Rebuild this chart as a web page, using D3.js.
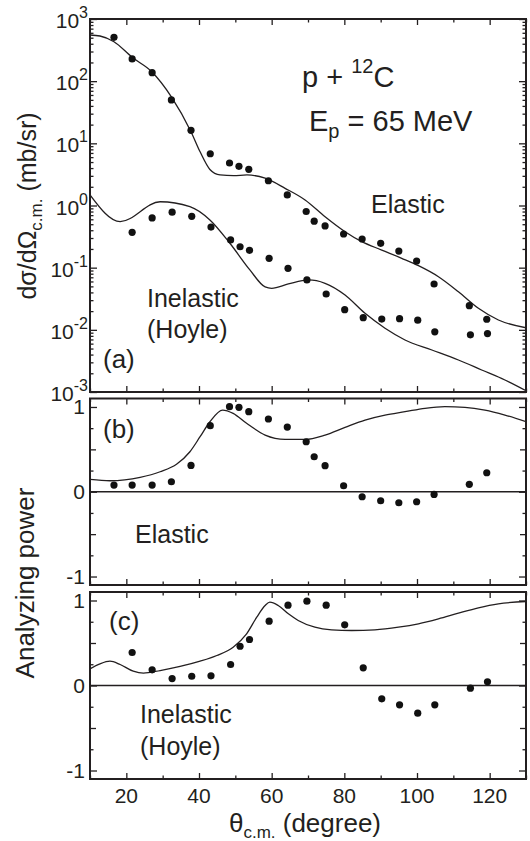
<!DOCTYPE html>
<html>
<head>
<meta charset="utf-8">
<script src="https://cdn.jsdelivr.net/npm/d3@7"></script>
<style>
  body { margin: 0; background: #fff; }
  svg { display: block; font-family: "Liberation Sans", Arial, sans-serif; }
  .axis path, .axis line { stroke: #231f20; }
  .axis text { fill: #231f20; }
</style>
</head>
<body>
<svg id="chart" width="530" height="841"></svg>
<script>
// ---- data ----

// angles of the measured points (degree)
const thetaElastic = [16.6, 21.6, 27.1, 32.4, 37.8, 43.1, 48.4, 51.0, 53.7, 59.1, 64.3,
    69.5, 71.7, 74.7, 79.8, 84.9, 90.0, 95.0, 99.9, 104.7, 114.4, 119.2];
const thetaInelastic = [21.6, 27.1, 32.6, 38.0, 43.3, 48.7, 51.3, 53.9, 59.3, 64.5,
    69.7, 75.0, 80.1, 85.2, 90.3, 95.2, 100.2, 104.9, 114.7, 119.4];

// cross sections (mb/sr)
const xsElastic = [508, 228, 137, 50, 16.2, 6.8, 4.83, 4.26, 3.82, 2.5, 1.48,
    0.80, 0.56, 0.47, 0.348, 0.289, 0.246, 0.185, 0.128, 0.0546, 0.0245, 0.0148];
const xsInelastic = [0.37, 0.63, 0.78, 0.67, 0.45, 0.279, 0.217, 0.19, 0.1415, 0.0977,
    0.0634, 0.0377, 0.0211, 0.0157, 0.0149, 0.0151, 0.0143, 0.0093, 0.0083, 0.0087];

// analyzing powers
const ayElastic = [0.079, 0.079, 0.079, 0.118, 0.311, 0.779, 1.003, 0.996, 0.944, 0.858, 0.763,
    0.59, 0.413, 0.307, 0.071, -0.059, -0.106, -0.13, -0.118, -0.031, 0.087, 0.224];
const ayInelastic = [0.388, 0.184, 0.082, 0.109, 0.114, 0.247, 0.462, 0.541, 0.757, 0.945,
    0.992, 0.945, 0.714, 0.208, -0.157, -0.227, -0.325, -0.227, -0.031, 0.043];

// calculations (solid lines)
const calcXsElTheta = [10, 12.75, 16.6, 21.6, 27.0, 32.4, 37.8, 40.3, 43.0, 45.8, 49.5, 53.2,
    58.2, 63.7, 69.2, 74.7, 80.2, 84.8, 90.3, 95.8, 100.4, 105.9, 111.4, 116.9, 122.4, 130];
const calcXsEl = [553, 533, 431, 242, 142, 56, 15.4, 7.3, 3.8, 3.1, 3.02, 3.1,
    2.75, 1.89, 1.23, 0.66, 0.379, 0.262, 0.192, 0.1415, 0.1077, 0.0716, 0.041, 0.0222, 0.0144, 0.0108];

const calcXsInTheta = [10, 18.3, 29.3, 37.5, 43.0, 48.5, 54.0, 58.2, 60, 64.6, 70.1, 74.7,
    80.2, 85.7, 91.2, 96.7, 104.1, 111.4, 117.8, 124.2, 130];
const calcXsIn = [1.48, 0.55, 1.15, 0.957, 0.585, 0.247, 0.092, 0.049, 0.0466, 0.0547, 0.0634, 0.056,
    0.0363, 0.0184, 0.0106, 0.00687, 0.00474, 0.00327, 0.00226, 0.00156, 0.00105];

const calcAyElTheta = [10, 15.5, 23.8, 29.3, 33.9, 37.5, 40.3, 43.0, 46.5, 49.4, 53.1, 58.2, 63.7,
    69.2, 74.7, 80.2, 85.7, 91.2, 96.7, 102.2, 107.7, 113.2, 118.7, 124.2, 130];
const calcAyEl = [0.146, 0.13, 0.17, 0.236, 0.327, 0.472, 0.649, 0.826, 0.964, 0.925, 0.807, 0.669, 0.618,
    0.618, 0.669, 0.76, 0.846, 0.905, 0.944, 0.984, 1.003, 0.996, 0.964, 0.905, 0.826];

const calcAyInTheta = [10, 12.75, 15.5, 18.3, 21.9, 24.7, 29.3, 34.8, 40.3, 44.9, 49.4, 53.1, 55.9,
    58.2, 59.5, 61.8, 64.6, 67.3, 71.9, 76.5, 82.0, 88.4, 94.9, 100.4, 105.9, 111.4, 116.9, 122.4, 130];
const calcAyIn = [0.196, 0.255, 0.286, 0.247, 0.168, 0.145, 0.176, 0.224, 0.286, 0.353, 0.451, 0.608, 0.804,
    0.941, 0.98, 0.941, 0.843, 0.765, 0.686, 0.655, 0.647, 0.655, 0.686, 0.726, 0.784, 0.851, 0.914, 0.961, 0.988];

// tick values
const xMajorTicks = [20, 40, 60, 80, 100, 120];
const xMinorTicks = [10, 30, 50, 70, 90, 110, 130];
const logMajorTicks = [1e-3, 1e-2, 1e-1, 1e0, 1e1, 1e2, 1e3];
const logExponents = ["-3", "-2", "-1", "0", "1", "2", "3"];
const ayMajorTicks = [-1, 0, 1];
const ayMidTicks = [-0.5, 0.5];
const ayMinorTicks = [-0.75, -0.25, 0.25, 0.75];

// ---- layout ----
const svg = d3.select('#chart');
const left = 90, right = 526;
const ink = '#231f20';
const font = 21;

const x = d3.scaleLinear().domain([10, 130]).range([left, right]);

const panels = [
    { id: 'a', top: 19, bottom: 392, y: d3.scaleLog().domain([1e-3, 1e3]).range([392, 19]) },
    { id: 'b', top: 398.5, bottom: 585, y: d3.scaleLinear().domain([-1.1, 1.1]).range([585, 398.5]) },
    { id: 'c', top: 592, bottom: 779, y: d3.scaleLinear().domain([-1.1, 1.1]).range([779, 592]) }
];

// log minor ticks 2..9 for each decade
const logMinorTicks = [];
for (let e = -3; e < 3; e++) {
    for (let m = 2; m <= 9; m++) logMinorTicks.push(m * Math.pow(10, e));
}

function styleAxis(g) {
    g.select('.domain').remove();
    g.selectAll('line').attr('stroke', ink).attr('stroke-width', 1.3);
}

panels.forEach(p => {
    const g = svg.append('g').attr('class', 'panel-' + p.id);

    // clip for the curves
    svg.append('clipPath').attr('id', 'clip-' + p.id)
        .append('rect')
        .attr('x', left).attr('y', p.top)
        .attr('width', right - left).attr('height', p.bottom - p.top);

    // x ticks, top and bottom, pointing inward
    g.append('g').attr('class', 'axis')
        .attr('transform', `translate(0,${p.bottom})`)
        .call(d3.axisBottom(x).tickValues(xMajorTicks).tickSize(-6).tickFormat(''))
        .call(styleAxis);
    g.append('g').attr('class', 'axis')
        .attr('transform', `translate(0,${p.bottom})`)
        .call(d3.axisBottom(x).tickValues(xMinorTicks).tickSize(-3.5).tickFormat(''))
        .call(styleAxis);
    g.append('g').attr('class', 'axis')
        .attr('transform', `translate(0,${p.top})`)
        .call(d3.axisTop(x).tickValues(xMajorTicks).tickSize(-6).tickFormat(''))
        .call(styleAxis);
    g.append('g').attr('class', 'axis')
        .attr('transform', `translate(0,${p.top})`)
        .call(d3.axisTop(x).tickValues(xMinorTicks).tickSize(-3.5).tickFormat(''))
        .call(styleAxis);

    // y ticks, left and right, pointing inward
    let major, minor, mid = [];
    if (p.id === 'a') { major = logMajorTicks; minor = logMinorTicks; }
    else { major = ayMajorTicks; mid = ayMidTicks; minor = ayMinorTicks; }

    [[d3.axisLeft, left], [d3.axisRight, right]].forEach(([ax, pos]) => {
        g.append('g').attr('class', 'axis')
            .attr('transform', `translate(${pos},0)`)
            .call(ax(p.y).tickValues(major).tickSize(-7).tickFormat(''))
            .call(styleAxis);
        g.append('g').attr('class', 'axis')
            .attr('transform', `translate(${pos},0)`)
            .call(ax(p.y).tickValues(mid).tickSize(-6).tickFormat(''))
            .call(styleAxis);
        g.append('g').attr('class', 'axis')
            .attr('transform', `translate(${pos},0)`)
            .call(ax(p.y).tickValues(minor).tickSize(-3.5).tickFormat(''))
            .call(styleAxis);
    });

    // zero line for analyzing power panels
    if (p.id !== 'a') {
        g.append('line')
            .attr('x1', left).attr('x2', right)
            .attr('y1', p.y(0)).attr('y2', p.y(0))
            .attr('stroke', ink).attr('stroke-width', 1.6);
    }

    // frame
    g.append('rect')
        .attr('x', left).attr('y', p.top)
        .attr('width', right - left).attr('height', p.bottom - p.top)
        .attr('fill', 'none').attr('stroke', ink).attr('stroke-width', 2);

    // y tick labels
    if (p.id === 'a') {
        logMajorTicks.forEach((v, i) => {
            const t = g.append('text')
                .attr('x', 88).attr('y', p.y(v) + 9)
                .attr('text-anchor', 'end')
                .attr('fill', ink)
                .style('font-size', font + 'px');
            t.append('tspan').text('10');
            t.append('tspan').attr('dy', -10).style('font-size', '16px').text(logExponents[i]);
        });
    } else {
        ayMajorTicks.forEach(v => {
            g.append('text')
                .attr('x', 85).attr('y', p.y(v) + 7)
                .attr('text-anchor', 'end')
                .attr('fill', ink)
                .style('font-size', font + 'px')
                .text(v);
        });
    }
    p.g = g;
});

// x tick labels under the bottom panel
const pc = panels[2];
xMajorTicks.forEach(v => {
    svg.append('text')
        .attr('x', x(v)).attr('y', pc.bottom + 24)
        .attr('text-anchor', 'middle')
        .attr('fill', ink)
        .style('font-size', font + 'px')
        .text(v);
});

// ---- curves and points ----
const lineFor = (p) => d3.line()
    .x(d => x(d[0]))
    .y(d => p.y(d[1]))
    .curve(d3.curveMonotoneX);

function drawCurve(p, thetas, values) {
    const pts = thetas.map((t, i) => [t, values[i]]);
    p.g.append('path')
        .datum(pts)
        .attr('clip-path', `url(#clip-${p.id})`)
        .attr('fill', 'none')
        .attr('stroke', ink)
        .attr('stroke-width', 1.3)
        .attr('d', lineFor(p));
}

function drawPoints(p, thetas, values) {
    p.g.selectAll(null)
        .data(thetas.map((t, i) => [t, values[i]]))
        .enter().append('circle')
        .attr('cx', d => x(d[0]))
        .attr('cy', d => p.y(d[1]))
        .attr('r', 3.6)
        .attr('fill', '#111');
}

drawCurve(panels[0], calcXsElTheta, calcXsEl);
drawCurve(panels[0], calcXsInTheta, calcXsIn);
drawPoints(panels[0], thetaElastic, xsElastic);
drawPoints(panels[0], thetaInelastic, xsInelastic);

drawCurve(panels[1], calcAyElTheta, calcAyEl);
drawPoints(panels[1], thetaElastic, ayElastic);

drawCurve(panels[2], calcAyInTheta, calcAyIn);
drawPoints(panels[2], thetaInelastic, ayInelastic);

// ---- annotations ----
function label(txt, xx, yy, size) {
    return svg.append('text')
        .attr('x', xx).attr('y', yy)
        .attr('fill', ink)
        .style('font-size', size + 'px')
        .text(txt);
}

// p + 12C
const reac = svg.append('text').attr('x', 302).attr('y', 87)
    .attr('fill', ink).style('font-size', '29px');
reac.append('tspan').text('p + ');
reac.append('tspan').attr('dy', -14).style('font-size', '20px').text('12');
reac.append('tspan').attr('dy', 14).text('C');

// Ep = 65 MeV
const ener = svg.append('text').attr('x', 309).attr('y', 131)
    .attr('fill', ink).style('font-size', '29px');
ener.append('tspan').text('E');
ener.append('tspan').attr('dy', 7).style('font-size', '20px').text('p');
ener.append('tspan').attr('dy', -7).text(' = 65 MeV');

label('Elastic', 371, 213, 25);
label('Inelastic', 147, 307, 25);
label('(Hoyle)', 147, 338, 25);
label('(a)', 103, 368, 26);
label('(b)', 103, 438, 26);
label('Elastic', 135, 543, 25);
label('(c)', 109, 630, 26);
label('Inelastic', 140, 723, 25);
label('(Hoyle)', 140, 755, 25);

// axis titles
const yTitleA = svg.append('text')
    .attr('transform', 'translate(36,206) rotate(-90)')
    .attr('text-anchor', 'middle')
    .attr('fill', ink)
    .style('font-size', '25px');
yTitleA.append('tspan').text('dσ/dΩ');
yTitleA.append('tspan').attr('dy', 6).style('font-size', '17px').text('c.m.');
yTitleA.append('tspan').attr('dy', -6).text(' (mb/sr)');

svg.append('text')
    .attr('transform', 'translate(34,583) rotate(-90)')
    .attr('text-anchor', 'middle')
    .attr('fill', ink)
    .style('font-size', '26px')
    .text('Analyzing power');

const xTitle = svg.append('text')
    .attr('x', 305).attr('y', 832)
    .attr('text-anchor', 'middle')
    .attr('fill', ink)
    .style('font-size', '26px');
xTitle.append('tspan').text('θ');
xTitle.append('tspan').attr('dy', 6).style('font-size', '17px').text('c.m.');
xTitle.append('tspan').attr('dy', -6).text(' (degree)');
</script>
</body>
</html>
